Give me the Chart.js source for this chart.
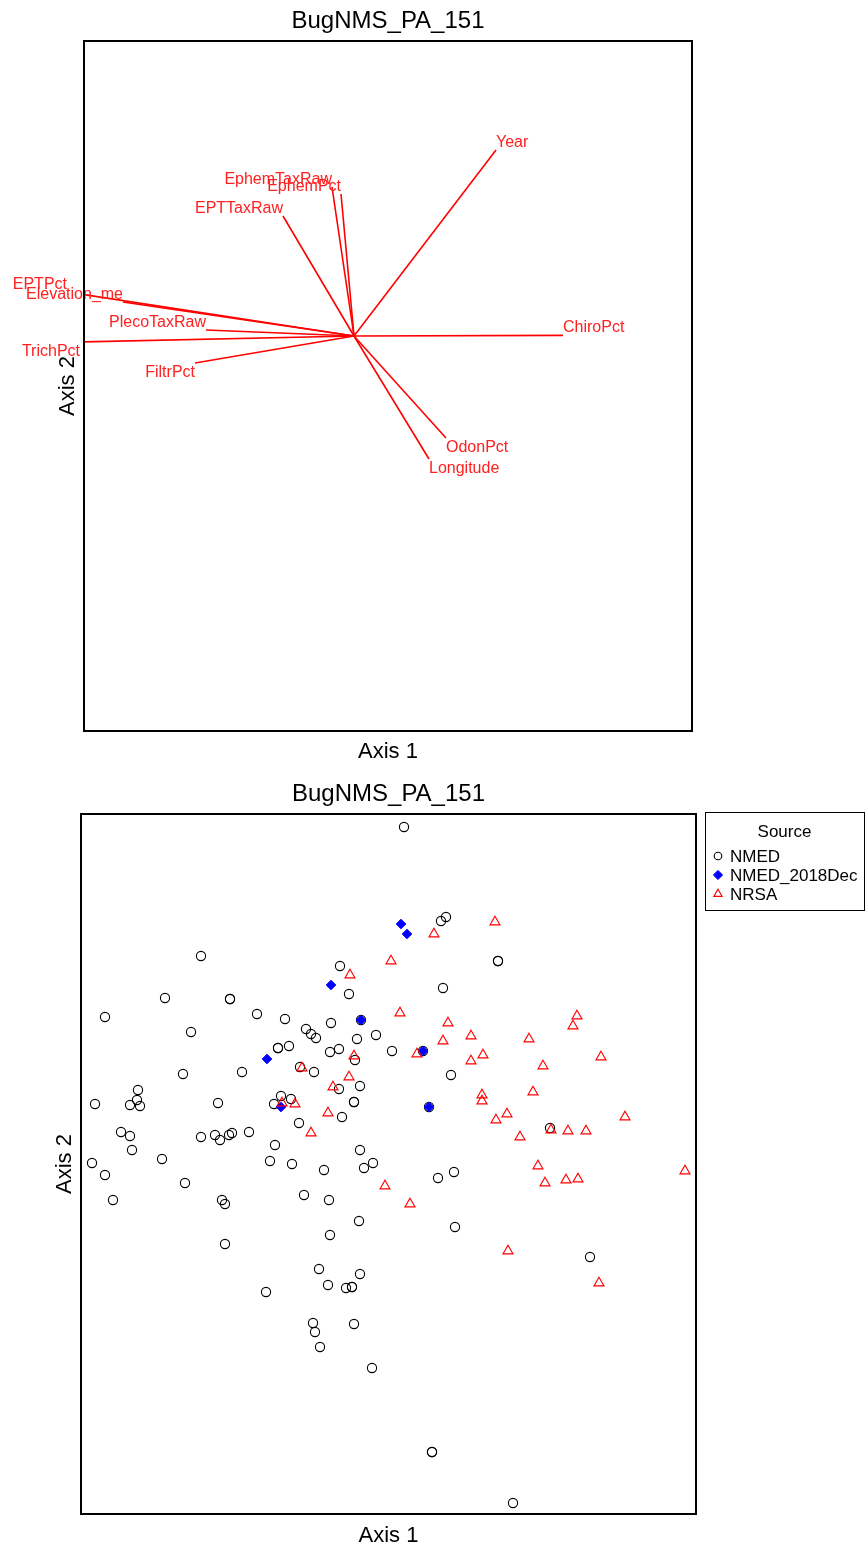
<!DOCTYPE html>
<html>
<head>
<meta charset="utf-8">
<script src="https://cdn.jsdelivr.net/npm/chart.js@4.4.1/dist/chart.umd.min.js"></script>
<style>
  html, body { margin: 0; padding: 0; background: #fff; }
  #wrap { position: relative; width: 867px; height: 1552px; }
  canvas { position: absolute; left: 0; }
</style>
</head>
<body>
<div id="wrap">
  <canvas id="biplot" width="867" height="770" style="top:0"></canvas>
  <canvas id="scores" width="867" height="782" style="top:770px"></canvas>
</div>
<script>
// ---- labels ----
const chartTitle = 'BugNMS_PA_151';
const axisNames = ['Axis 1', 'Axis 2'];

// ---- environmental vectors (joint plot loadings) ----
const vectorNames = ['Year', 'ChiroPct', 'OdonPct', 'Longitude', 'EphemTaxRaw', 'EphemPct',
  'EPTTaxRaw', 'EPTPct', 'Elevation_me', 'PlecoTaxRaw', 'TrichPct', 'FiltrPct'];
const vectorAxis1 = [0.71, 1.045, 0.46, 0.375, -0.11, -0.065, -0.355, -1.435, -1.155, -0.74, -1.37, -0.795];
const vectorAxis2 = [0.93, 0.003, -0.51, -0.615, 0.745, 0.71, 0.60, 0.22, 0.17, 0.03, -0.03, -0.135];

// ---- site scores by source ----
const sourceNames = ['NMED', 'NMED_2018Dec', 'NRSA'];

const nmedAxis1 = [0.08, -0.935, -0.24, -0.195, -1.115, -0.79, -0.79, -1.415, -0.655, -0.515, -0.285,
  -0.985, -0.41, -0.385, -0.36, -0.06, -0.155, -0.55, -0.55, -0.495, -0.29, -0.245, -0.165,
  -1.025, -0.73, -0.37, -0.44, -0.245, -0.14, -1.25, -1.255, -1.29, -1.24, -1.465, -0.85,
  -0.57, -0.535, -0.485, -0.17, -0.17, -0.23, -0.445, -1.335, -1.29, -0.935, -0.865, -0.84,
  -0.795, -0.78, -0.695, -1.28, -0.565, -0.14, 0.265, 0.29, 0.55, 0.55, 0.275, 0.02, 0.315,
  0.81, -1.48, -1.13, -1.415, -1.015, -1.375, -0.83, -0.815, -0.815, -0.59, -0.48, -0.32,
  -0.12, -0.075, -0.42, -0.295, -0.145, -0.29, -0.345, -0.14, -0.30, -0.21, -0.18, -0.18,
  -0.61, -0.375, -0.365, -0.17, -0.34, -0.08, 0.25, 0.33, 0.335, 1.01, 0.22, 0.22, 0.625,
  -0.135, 0.175, 0.205];
const nmedAxis2 = [1.685, 1.04, 0.99, 0.85, 0.83, 0.825, 0.825, 0.735, 0.75, 0.725, 0.705,
  0.66, 0.675, 0.65, 0.63, 0.645, 0.625, 0.58, 0.58, 0.59, 0.56, 0.575, 0.52,
  0.45, 0.46, 0.46, 0.485, 0.375, 0.39, 0.37, 0.32, 0.295, 0.29, 0.30, 0.305,
  0.30, 0.34, 0.325, 0.31, 0.31, 0.235, 0.205, 0.16, 0.14, 0.135, 0.145, 0.12,
  0.145, 0.155, 0.16, 0.07, 0.095, 0.07, 1.215, 1.235, 1.015, 1.015, 0.88, 0.565, 0.445,
  0.18, 0.005, 0.025, -0.055, -0.095, -0.18, -0.18, -0.20, -0.40, 0.015, 0.0, -0.03,
  -0.02, 0.005, -0.155, -0.18, -0.285, -0.355, -0.525, -0.55, -0.605, -0.62, -0.615, -0.615,
  -0.64, -0.795, -0.84, -0.80, -0.915, -1.02, -0.07, -0.04, -0.315, -0.465, -1.44, -1.44, -1.695,
  0.72, 0.565, 0.285];

const decAxis1 = [0.065, 0.095, -0.285, -0.605, -0.535, -0.135, 0.175, 0.205];
const decAxis2 = [1.20, 1.15, 0.895, 0.525, 0.285, 0.72, 0.565, 0.285];

const nrsaAxis1 = [-0.19, -0.17, -0.43, -0.195, -0.275, -0.53, -0.465, -0.30, -0.385, 0.535,
  0.23, 0.015, 0.06, 0.945, 0.925, 0.30, 0.415, 0.705, 0.275, 0.145, 0.475, 1.065, 0.415,
  0.775, 0.725, 0.47, 0.47, 1.185, 0.595, 0.54, 0.815, 0.90, 0.99, 0.66, 0.75, 0.785,
  0.89, 0.95, 1.485, -0.015, 0.11, 0.60, 1.055];
const nrsaAxis2 = [0.945, 0.54, 0.48, 0.435, 0.385, 0.305, 0.30, 0.255, 0.155, 1.21,
  1.15, 1.015, 0.755, 0.74, 0.69, 0.705, 0.64, 0.625, 0.615, 0.55, 0.545, 0.535, 0.515,
  0.49, 0.36, 0.345, 0.315, 0.235, 0.25, 0.22, 0.17, 0.165, 0.165, 0.135, -0.01, -0.095,
  -0.08, -0.075, -0.035, -0.11, -0.20, -0.435, -0.595];

// ---- helpers ----
const FONT = '"Liberation Sans", Arial, Helvetica, sans-serif';
const zip = (xs, ys) => xs.map((x, i) => ({ x: x, y: ys[i] }));

// Box around the plotting region plus main title and axis titles
const framePlugin = {
  id: 'frame',
  afterDatasetsDraw(chart, args, o) {
    const { ctx, chartArea: a } = chart;
    const cx = (a.left + a.right) / 2;
    ctx.save();
    ctx.strokeStyle = '#000';
    ctx.lineWidth = 2;
    ctx.strokeRect(a.left, a.top, a.right - a.left, a.bottom - a.top);
    ctx.fillStyle = '#000';
    ctx.textAlign = 'center';
    ctx.textBaseline = 'alphabetic';
    ctx.font = '24px ' + FONT;
    ctx.fillText(o.title, cx, a.top - o.titleGap);
    ctx.font = '22px ' + FONT;
    ctx.fillText(o.xLabel, cx, a.bottom + o.xGap);
    ctx.translate(a.left - o.yGap, (a.top + a.bottom) / 2);
    ctx.rotate(-Math.PI / 2);
    ctx.fillText(o.yLabel, 0, 0);
    ctx.restore();
  }
};

// Names printed at the tips of the vectors (not clipped to the plot box)
const vectorLabelPlugin = {
  id: 'vectorLabels',
  afterDatasetsDraw(chart) {
    const { ctx, scales } = chart;
    ctx.save();
    ctx.font = '16px ' + FONT;
    ctx.fillStyle = '#ff2020';
    ctx.textBaseline = 'alphabetic';
    vectorNames.forEach((name, i) => {
      const px = scales.x.getPixelForValue(vectorAxis1[i]);
      const py = scales.y.getPixelForValue(vectorAxis2[i]);
      ctx.textAlign = vectorAxis1[i] >= 0 ? 'left' : 'right';
      const ty = vectorAxis2[i] >= 0 ? py - 3 : py + 14;
      ctx.fillText(name, px, ty);
    });
    ctx.restore();
  }
};

// Boxed legend to the right of the score plot
const sourceLegendPlugin = {
  id: 'sourceLegend',
  afterDraw(chart, args, o) {
    const { ctx, chartArea: a } = chart;
    const left = a.right + o.gap, top = a.top - 2;
    const w = o.width, h = o.height;
    ctx.save();
    ctx.strokeStyle = '#000';
    ctx.lineWidth = 1;
    ctx.strokeRect(left + 0.5, top + 0.5, w, h);
    ctx.fillStyle = '#000';
    ctx.font = '17px ' + FONT;
    ctx.textAlign = 'center';
    ctx.textBaseline = 'alphabetic';
    ctx.fillText(o.title, left + w / 2, top + 25);
    ctx.textAlign = 'left';
    chart.data.datasets.forEach((ds, i) => {
      const cy = top + 44 + i * 19;
      ctx.fillStyle = ds.backgroundColor;
      ctx.strokeStyle = ds.borderColor;
      ctx.lineWidth = ds.borderWidth;
      Chart.helpers.drawPoint(ctx, {
        pointStyle: ds.pointStyle,
        radius: ds.legendRadius,
        borderWidth: ds.borderWidth
      }, left + 13, cy);
      ctx.fillStyle = '#000';
      ctx.fillText(ds.label, left + 25, cy + 6);
    });
    ctx.restore();
  }
};

Chart.defaults.font.family = FONT;

// ---- joint plot of environmental vectors ----
new Chart(document.getElementById('biplot'), {
  type: 'scatter',
  data: {
    datasets: vectorNames.map((name, i) => ({
      label: name,
      data: [{ x: 0, y: 0 }, { x: vectorAxis1[i], y: vectorAxis2[i] }],
      showLine: true,
      borderColor: '#ff0000',
      borderWidth: 1.6,
      pointRadius: 0,
      pointHoverRadius: 0
    }))
  },
  options: {
    responsive: false,
    animation: false,
    events: [],
    layout: { padding: { left: 84, right: 175, top: 41, bottom: 39 } },
    scales: {
      x: { type: 'linear', min: -1.35, max: 1.69, display: false },
      y: { type: 'linear', min: -1.975, max: 1.475, display: false }
    },
    plugins: {
      legend: { display: false },
      tooltip: { enabled: false },
      frame: { title: chartTitle, xLabel: axisNames[0], yLabel: axisNames[1], titleGap: 13.5, xGap: 27, yGap: 10.5 }
    }
  },
  plugins: [vectorLabelPlugin, framePlugin]
});

// ---- site scores coloured by source ----
new Chart(document.getElementById('scores'), {
  type: 'scatter',
  data: {
    datasets: [
      {
        label: sourceNames[0],
        data: zip(nmedAxis1, nmedAxis2),
        pointStyle: 'circle',
        pointRadius: 4.6,
        legendRadius: 3.8,
        borderColor: '#000000',
        backgroundColor: 'rgba(0,0,0,0)',
        borderWidth: 1.1,
        order: 3
      },
      {
        label: sourceNames[1],
        data: zip(decAxis1, decAxis2),
        pointStyle: 'rectRot',
        pointRadius: 4.8,
        legendRadius: 4.6,
        borderColor: '#0000ff',
        backgroundColor: '#0000ff',
        borderWidth: 1,
        order: 2
      },
      {
        label: sourceNames[2],
        data: zip(nrsaAxis1, nrsaAxis2),
        pointStyle: 'triangle',
        pointRadius: 5.8,
        legendRadius: 4.8,
        borderColor: '#ff0000',
        backgroundColor: 'rgba(0,0,0,0)',
        borderWidth: 1.1,
        order: 1
      }
    ]
  },
  options: {
    responsive: false,
    animation: false,
    events: [],
    layout: { padding: { left: 81, right: 171, top: 44, bottom: 38 } },
    scales: {
      x: { type: 'linear', min: -1.535, max: 1.54, display: false },
      y: { type: 'linear', min: -1.75, max: 1.75, display: false }
    },
    plugins: {
      legend: { display: false },
      tooltip: { enabled: false },
      frame: { title: chartTitle, xLabel: axisNames[0], yLabel: axisNames[1], titleGap: 13, xGap: 28, yGap: 10 },
      sourceLegend: { title: 'Source', gap: 9, width: 159, height: 98 }
    }
  },
  plugins: [framePlugin, sourceLegendPlugin]
});
</script>
</body>
</html>
